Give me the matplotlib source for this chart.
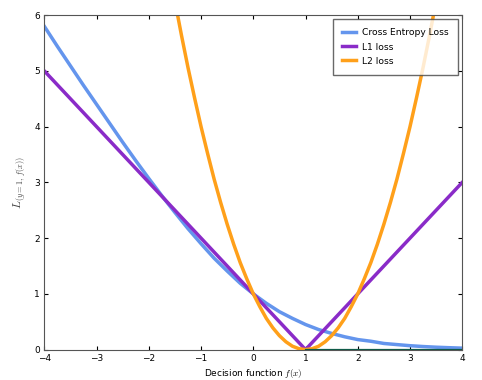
# Loss functions for y = 1

import matplotlib.pyplot as plt

plt.rcParams["mathtext.fontset"] = "cm"

# data
x_ce = [-4, -3.75, -3.5, -3.25, -3, -2.75, -2.5, -2.25, -2, -1.75, -1.5, -1.25,
        -1, -0.75, -0.5, -0.25, 0, 0.25, 0.5, 0.75, 1, 1.25, 1.5, 1.75,
        2, 2.25, 2.5, 2.75, 3, 3.25, 3.5, 3.75, 4]
y_ce = [5.80, 5.44, 5.09, 4.74, 4.40, 4.06, 3.72, 3.39, 3.07, 2.76, 2.46, 2.17,
        1.90, 1.64, 1.41, 1.19, 1.00, 0.83, 0.68, 0.56, 0.45, 0.36, 0.29, 0.23,
        0.18, 0.15, 0.11, 0.09, 0.07, 0.055, 0.043, 0.034, 0.026]

x_l1 = [-4, 1, 4]
y_l1 = [5, 0, 3]

x_l2 = [-1.5, -1.375, -1.25, -1.125, -1, -0.875, -0.75, -0.625, -0.5, -0.375,
        -0.25, -0.125, 0, 0.125, 0.25, 0.375, 0.5, 0.625, 0.75, 0.875, 1,
        1.125, 1.25, 1.375, 1.5, 1.625, 1.75, 1.875, 2, 2.125, 2.25, 2.375,
        2.5, 2.625, 2.75, 2.875, 3, 3.125, 3.25, 3.375, 3.5]
y_l2 = [6.25, 5.64, 5.06, 4.52, 4.0, 3.52, 3.06, 2.64, 2.25, 1.89,
        1.56, 1.27, 1.0, 0.77, 0.56, 0.39, 0.25, 0.14, 0.06, 0.016, 0,
        0.016, 0.06, 0.14, 0.25, 0.39, 0.56, 0.77, 1.0, 1.27, 1.56, 1.89,
        2.25, 2.64, 3.06, 3.52, 4.0, 4.52, 5.06, 5.64, 6.25]

x_zero = [1, 4]
y_zero = [0, 0]

fig = plt.figure(figsize=(4.82, 3.8), dpi=100)
ax = fig.add_axes([0.092, 0.08, 0.867, 0.88])

ax.plot(x_ce, y_ce, color="#6495ed", lw=2.5, label="Cross Entropy Loss")
ax.plot(x_l1, y_l1, color="#8a2bc8", lw=2.5, label="L1 loss")
ax.plot(x_l2, y_l2, color="#ffa01a", lw=2.5, label="L2 loss")
ax.plot(x_zero, y_zero, color="#0b5b48", lw=1.6)

ax.set_xlim(-4, 4)
ax.set_ylim(0, 6)
ax.tick_params(direction="in", top=True, right=True, labelsize=6.5, length=3, pad=3)
for s in ax.spines.values():
    s.set_color("#555555")

ax.set_xlabel("Decision function $f(x)$", fontsize=6.5, labelpad=3)
ax.set_ylabel("$L_{(y=1,\\,f(x))}$", fontsize=8.5, color="#444444", labelpad=5)

leg = ax.legend(loc="upper right", fontsize=6.6, handlelength=1.5, fancybox=False,
                borderpad=1.0, labelspacing=0.55, handletextpad=0.7,
                borderaxespad=0.45)
leg.get_frame().set_edgecolor("#444444")

plt.savefig("out.png")
